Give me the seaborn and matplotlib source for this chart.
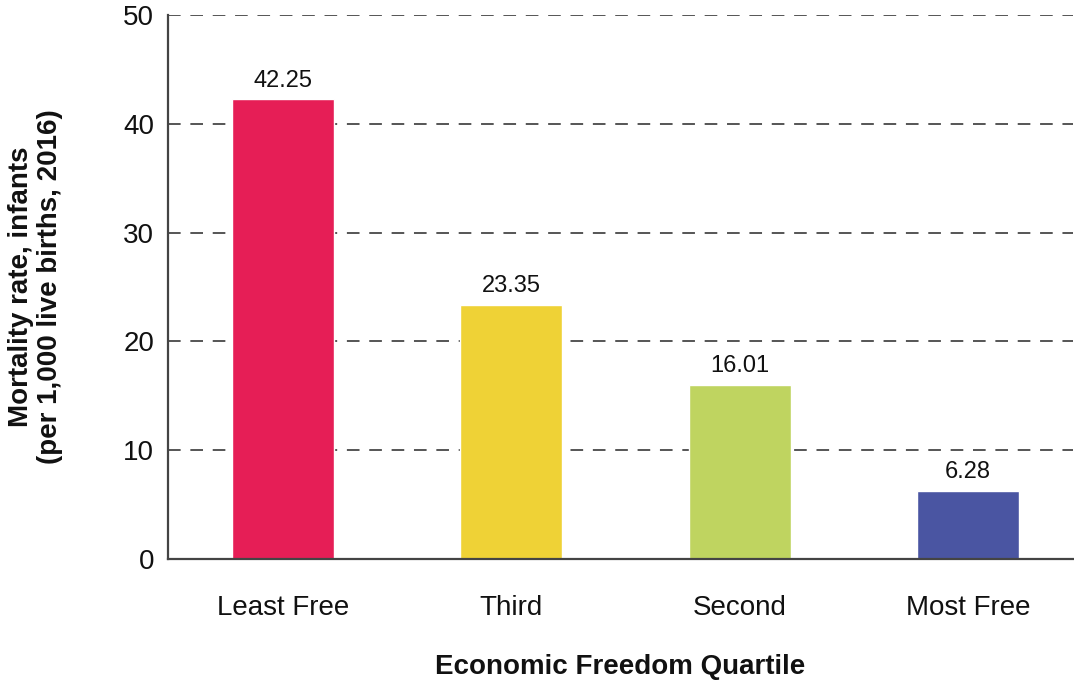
import matplotlib
matplotlib.use("Agg")
import matplotlib.pyplot as plt
import seaborn as sns
import pandas as pd

categories = ["Least Free", "Third", "Second", "Most Free"]
values = [42.25, 23.35, 16.01, 6.28]
colors = ["#E61E56", "#EFD236", "#BFD460", "#4A55A2"]
yticks = [0, 10, 20, 30, 40, 50]

sns.set_theme(style="white")
plt.rcParams["font.family"] = ["Liberation Sans", "DejaVu Sans"]

df = pd.DataFrame({"cat": categories, "val": values})

fig = plt.figure(figsize=(10.74, 6.88), dpi=100)
ax = fig.add_axes([168 / 1074, (688 - 559) / 688, (1073 - 168) / 1074, (559 - 15) / 688])

sns.barplot(data=df, x="cat", y="val", hue="cat", palette=colors, legend=False,
            width=0.446, ax=ax, saturation=1, zorder=3)

ax.set_ylim(0, 50)
ax.set_xlim(-0.503, 3.46)
ax.set_yticks(yticks)
for t in yticks[1:]:
    ax.axhline(t, color="#555555", linestyle=(0, (6.5, 5)), linewidth=1.4, zorder=1)

for i, v in enumerate(values):
    ax.text(i, v + 0.7, f"{v:.2f}", ha="center", va="bottom", fontsize=17, color="#111111")

for s in ["top", "right"]:
    ax.spines[s].set_visible(False)
for s in ["left", "bottom"]:
    ax.spines[s].set_color("#444444")
    ax.spines[s].set_linewidth(1.6)
    ax.spines[s].set_zorder(4)

ax.tick_params(axis="both", length=0, labelsize=20, colors="#111111")
ax.tick_params(axis="x", pad=26)
ax.tick_params(axis="y", pad=10)
ax.set_xlabel("Economic Freedom Quartile", fontsize=20, fontweight="bold", labelpad=24, color="#111111")
ax.set_ylabel("Mortality rate, infants\n(per 1,000 live births, 2016)", fontsize=20,
              fontweight="bold", labelpad=43, color="#111111", linespacing=1.15)

fig.savefig("out.png", dpi=100)
